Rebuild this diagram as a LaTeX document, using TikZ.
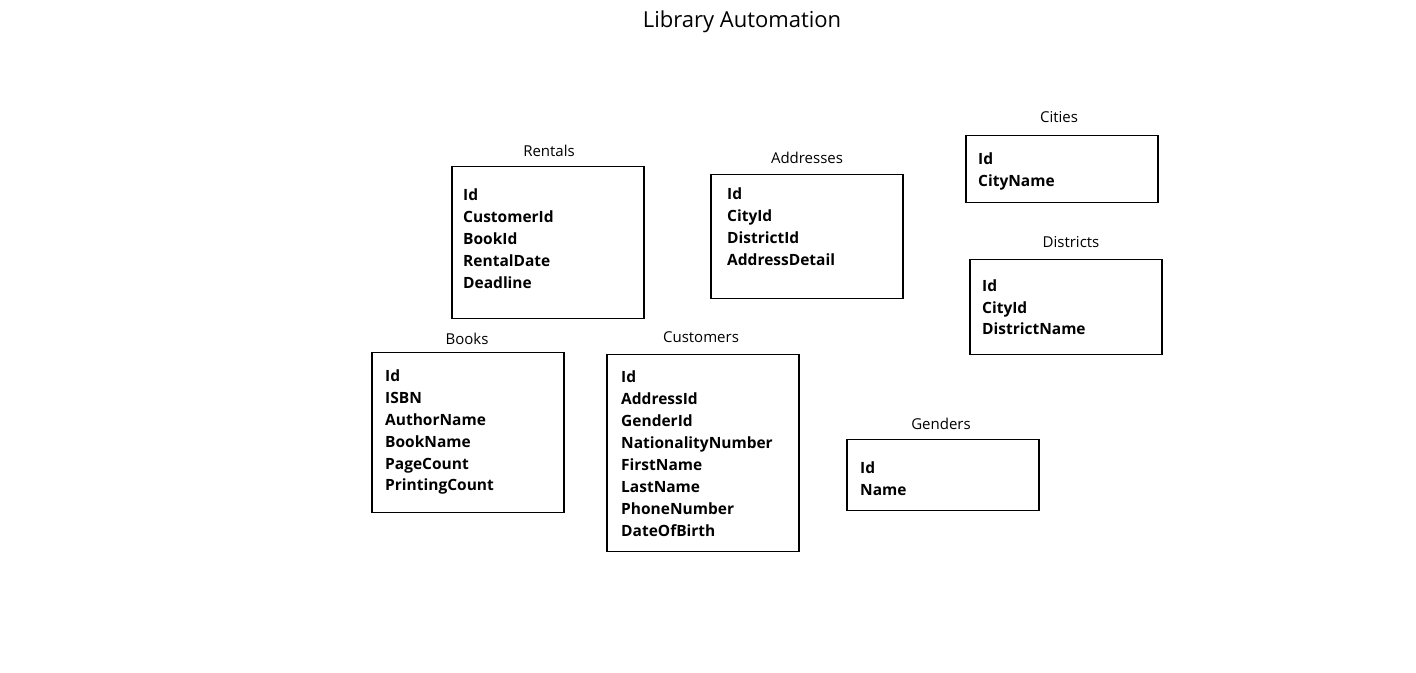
\documentclass[tikz,border=0pt]{standalone}
\usepackage{fontspec}
\setmainfont{Open Sans}
\begin{document}
\begin{tikzpicture}[x=1pt,y=-1pt,
  tbl/.style={draw=black,line width=1.6pt,fill=white,anchor=north west,inner sep=0pt},
  lbl/.style={font=\fontsize{15}{18}\selectfont,anchor=base,inner sep=0pt},
  fld/.style={font=\fontsize{15.5}{18}\selectfont\bfseries,anchor=base west,inner sep=0pt},
  ttl/.style={font=\fontsize{22}{26}\selectfont,anchor=base,inner sep=0pt}]
\useasboundingbox (0,0) rectangle (1416,672);
\node[ttl] (title) at (742,27) {Library Automation};
% Rentals
\node[tbl,minimum width=192pt,minimum height=152pt] (rentals) at (451,165.5) {};
\node[lbl] (rentalsL) at (549,156) {Rentals};
\foreach \t [count=\i] in {Id,CustomerId,BookId,RentalDate,Deadline}
  \node[fld] (rentalsF\i) at (463,{179+21.8*\i}) {\t};
% Addresses
\node[tbl,minimum width=192pt,minimum height=124pt] (addresses) at (710,173.5) {};
\node[lbl] (addressesL) at (807,163) {Addresses};
\foreach \t [count=\i] in {Id,CityId,DistrictId,AddressDetail}
  \node[fld] (addressesF\i) at (727,{178+21.8*\i}) {\t};
% Cities
\node[tbl,minimum width=192pt,minimum height=67pt] (cities) at (965,134.5) {};
\node[lbl] (citiesL) at (1059,122) {Cities};
\foreach \t [count=\i] in {Id,CityName}
  \node[fld] (citiesF\i) at (978,{142+22*\i}) {\t};
% Districts
\node[tbl,minimum width=192pt,minimum height=95pt] (districts) at (969,258.5) {};
\node[lbl] (districtsL) at (1071,247) {Districts};
\foreach \t [count=\i] in {Id,CityId,DistrictName}
  \node[fld] (districtsF\i) at (982,{270+21.5*\i}) {\t};
% Books
\node[tbl,minimum width=192pt,minimum height=160pt] (books) at (371,351.5) {};
\node[lbl] (booksL) at (467,344) {Books};
\foreach \t [count=\i] in {Id,ISBN,AuthorName,BookName,PageCount,PrintingCount}
  \node[fld] (booksF\i) at (385,{360+21.8*\i}) {\t};
% Customers
\node[tbl,minimum width=192pt,minimum height=197pt] (customers) at (606,353.5) {};
\node[lbl] (customersL) at (701,342) {Customers};
\foreach \t [count=\i] in {Id,AddressId,GenderId,NationalityNumber,FirstName,LastName,PhoneNumber,DateOfBirth}
  \node[fld] (customersF\i) at (621,{360+22.1*\i}) {\t};
% Genders
\node[tbl,minimum width=192pt,minimum height=71pt] (genders) at (846,438.5) {};
\node[lbl] (gendersL) at (941,429) {Genders};
\foreach \t [count=\i] in {Id,Name}
  \node[fld] (gendersF\i) at (860,{451+22*\i}) {\t};
\end{tikzpicture}
\end{document}
